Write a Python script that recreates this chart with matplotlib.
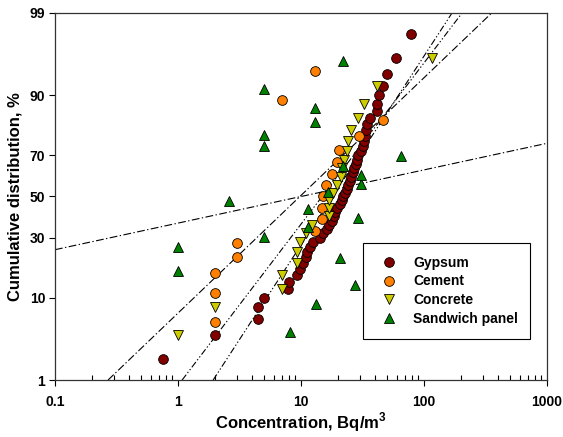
import math

import matplotlib

matplotlib.use("Agg")

import matplotlib.pyplot as plt
import numpy as np
from matplotlib.ticker import FixedLocator, FuncFormatter, LogLocator, NullLocator

plt.rcParams["font.family"] = ["Liberation Sans", "DejaVu Sans"]
plt.rcParams["font.weight"] = "bold"
plt.rcParams["mathtext.fontset"] = "custom"
plt.rcParams["mathtext.rm"] = "Liberation Sans"
plt.rcParams["mathtext.bf"] = "Liberation Sans:bold"

# cumulative plotting positions (%) and concentrations (Bq/m3)
gypsum_pct = [2, 4, 6, 8, 10, 12, 14, 16, 18, 20, 22, 24, 26, 28, 30, 32, 34, 36, 38, 40,
              42, 44, 46, 48, 50, 52, 54, 56, 58, 60, 62, 64, 66, 68, 70, 72, 74, 76, 78, 80,
              82, 84, 86, 88, 90, 92, 94, 96, 98]
gypsum_conc = [0.75, 2.0, 4.45, 4.45, 5.0, 7.8, 8.0, 9.2, 9.9, 10.4, 11.0, 11.25, 11.8, 12.6,
               14.3, 15.2, 16.2, 17.0, 17.8, 18.4, 19.0, 19.8, 20.8, 21.4, 21.9, 22.7, 23.6,
               24.3, 25.0, 25.6, 26.3, 27.1, 27.8, 28.4, 29.2, 30.8, 32.1, 32.6, 33.1, 33.8,
               34.4, 36.4, 41.3, 41.6, 43.1, 46.7, 49.7, 58.9, 78.4]

cement_pct = [5.6, 11.1, 16.7, 22.2, 27.8, 33.3, 38.9, 44.4, 50.0, 55.6, 61.1, 66.7, 72.2,
              77.8, 83.3, 88.9, 94.4]
cement_conc = [2.0, 2.0, 2.0, 3.0, 3.0, 13.0, 14.9, 14.9, 15.0, 16.0, 17.9, 19.8, 20.5,
               29.8, 46.0, 7.0, 13.0]

concrete_pct = [4, 8, 12, 16, 20, 24, 28, 32, 36, 40, 44, 48, 52, 56, 60, 64, 68, 72, 76,
                80, 84, 88, 92, 96]
concrete_conc = [1.0, 2.0, 7.0, 7.0, 9.2, 9.2, 9.9, 11.0, 12.2, 17.0, 17.0, 17.0, 18.3,
                 19.7, 21.0, 21.7, 22.5, 23.5, 24.0, 25.5, 29.3, 32.7, 41.7, 115.5]

sandwich_pct = [4.3, 8.7, 13.0, 17.4, 21.7, 26.1, 30.4, 34.8, 39.1, 43.5, 47.8, 52.2, 56.5,
                60.9, 65.2, 69.6, 73.9, 78.3, 82.6, 87.0, 91.3, 95.7]
sandwich_conc = [8.1, 13.2, 27.7, 1.0, 20.9, 1.0, 5.0, 11.4, 29.1, 11.4, 2.6, 16.7, 30.6,
                 30.6, 22.1, 65.0, 5.0, 5.0, 12.9, 12.9, 5.0, 21.8]

# lognormal fit lines, given by their two end points
fit_conc = [[0.1, 1000], [0.27, 355], [1.08, 204], [1.93, 169]]
fit_pct = [[25, 75], [1, 99], [1, 99], [1, 99]]

y_ticks = [1, 10, 30, 50, 70, 90, 99]

# normal probability scale
_z = np.linspace(-6, 6, 4801)
_cdf = np.array([0.5 * (1 + math.erf(v / math.sqrt(2))) for v in _z])


def prob_forward(p):
    return np.interp(np.asarray(p, dtype=float) / 100.0, _cdf, _z)


def prob_inverse(z):
    return 100.0 * np.interp(np.asarray(z, dtype=float), _z, _cdf)


fig = plt.figure(figsize=(5.63, 4.37), dpi=100)
ax = fig.add_axes([0.0977, 0.1304, 0.8739, 0.8399])
ax.set_xscale("log")
ax.set_yscale("function", functions=(prob_forward, prob_inverse))

dash_dot = (0, (7, 2.2, 1.2, 2.2))
dash_dot_dot = (0, (6, 2, 1.2, 2, 1.2, 2))
fit_styles = [dash_dot, dash_dot, dash_dot_dot, dash_dot_dot]
for xs, ps, ls in zip(fit_conc, fit_pct, fit_styles):
    ax.plot(xs, ps, color="black", linewidth=0.8, linestyle=ls, zorder=1)

series = [
    (gypsum_conc, gypsum_pct, "o", "#800000", "Gypsum"),
    (cement_conc, cement_pct, "o", "#ff8000", "Cement"),
    (concrete_conc, concrete_pct, "v", "#cccc00", "Concrete"),
    (sandwich_conc, sandwich_pct, "^", "#008000", "Sandwich panel"),
]
for xs, ps, marker, color, name in series:
    ax.plot(xs, ps, linestyle="none", marker=marker, markersize=7,
            markerfacecolor=color, markeredgecolor="black", markeredgewidth=0.6,
            label=name, zorder=3)

ax.set_xlim(0.1, 1000)
ax.set_ylim(1, 99)

ax.xaxis.set_major_locator(LogLocator(base=10, numticks=10))
ax.xaxis.set_minor_locator(LogLocator(base=10, subs=range(2, 10), numticks=10))
ax.xaxis.set_major_formatter(FuncFormatter(lambda v, pos: f"{v:g}"))
ax.yaxis.set_major_locator(FixedLocator(y_ticks))
ax.yaxis.set_minor_locator(NullLocator())
ax.set_yticklabels([str(t) for t in y_ticks])

ax.tick_params(axis="x", which="major", direction="out", length=4, width=0.8,
               labelsize=10, pad=7)
ax.tick_params(axis="x", which="minor", direction="in", length=3.5, width=0.8)
ax.tick_params(axis="y", which="major", direction="out", length=4, width=0.8,
               labelsize=10, pad=3)
for spine in ax.spines.values():
    spine.set_linewidth(0.9)
    spine.set_color("#333333")

ax.set_xlabel(r"Concentration, Bq/m$^{\mathbf{3}}$", fontsize=12, fontweight="bold",
              labelpad=1)
ax.set_ylabel("Cumulative distribution, %", fontsize=12, fontweight="bold", labelpad=5)

leg = ax.legend(loc="upper left", bbox_to_anchor=(0.626, 0.373), borderaxespad=0,
                frameon=True, fancybox=False, edgecolor="black", framealpha=1,
                fontsize=10, handlelength=2.0, handletextpad=0.7, borderpad=0.9,
                labelspacing=0.35)
leg.get_frame().set_linewidth(0.8)

fig.savefig("out.png", dpi=100)
